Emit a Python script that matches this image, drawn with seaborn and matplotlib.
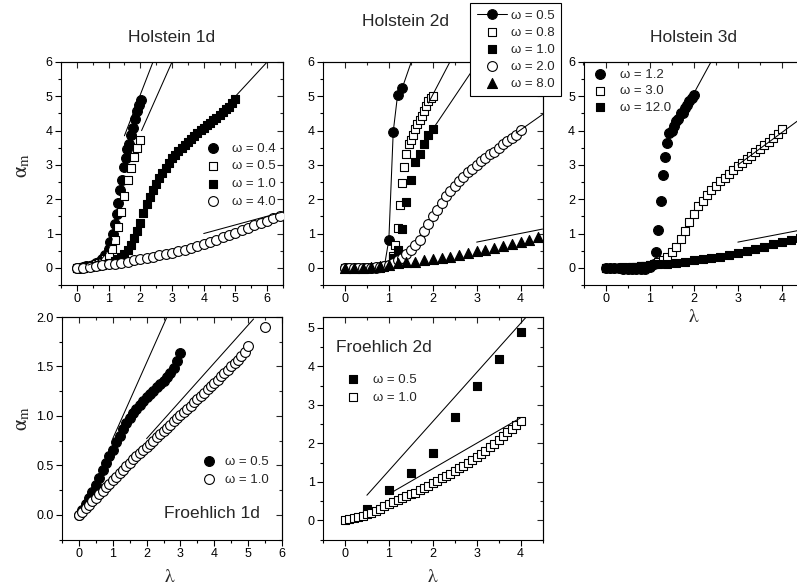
import matplotlib
matplotlib.use("Agg")
import matplotlib.pyplot as plt
import seaborn as sns
from matplotlib.ticker import MultipleLocator, FormatStrFormatter

# ---------------- Holstein 1d ----------------
h1_lam_w04 = [0.0, 0.1, 0.2, 0.3, 0.4, 0.5, 0.6, 0.7, 0.8, 0.9, 1.0, 1.05, 1.13, 1.2, 1.25,
              1.3, 1.37, 1.43, 1.48, 1.54, 1.59, 1.64, 1.72, 1.78, 1.84, 1.89, 1.96, 2.01]
h1_alp_w04 = [0.0, 0.01, 0.02, 0.04, 0.06, 0.09, 0.13, 0.18, 0.25, 0.36, 0.55, 0.75, 1.0, 1.28, 1.57,
              1.89, 2.28, 2.57, 2.93, 3.2, 3.45, 3.61, 3.86, 4.08, 4.35, 4.56, 4.74, 4.9]
h1_lam_w05 = [0.0, 0.1, 0.2, 0.3, 0.4, 0.5, 0.6, 0.7, 0.8, 0.9, 1.0, 1.1, 1.2, 1.3, 1.4, 1.5,
              1.6, 1.7, 1.8, 1.9, 2.0]
h1_alp_w05 = [0.0, 0.01, 0.02, 0.03, 0.05, 0.07, 0.1, 0.13, 0.18, 0.25, 0.38, 0.55, 0.8, 1.18, 1.62, 2.1,
              2.57, 2.92, 3.22, 3.49, 3.73]
h1_lam_w10 = [0.0, 0.1, 0.2, 0.3, 0.4, 0.5, 0.6, 0.7, 0.8, 0.9, 1.0, 1.1, 1.2, 1.3, 1.4, 1.5, 1.6,
              1.7, 1.8, 1.9, 2.0, 2.1, 2.2, 2.3, 2.4, 2.5, 2.6, 2.7, 2.8, 2.9, 3.0, 3.1, 3.2, 3.3,
              3.4, 3.5, 3.6, 3.7, 3.8, 3.9, 4.0, 4.1, 4.2, 4.3, 4.4, 4.5, 4.6, 4.7, 4.8, 4.9, 5.0]
h1_alp_w10 = [0.0, 0.0, 0.01, 0.02, 0.03, 0.04, 0.05, 0.07, 0.08, 0.1, 0.12, 0.15, 0.19, 0.25, 0.32,
              0.41, 0.53, 0.68, 0.86, 1.07, 1.32, 1.6, 1.86, 2.06, 2.26, 2.44, 2.61, 2.77, 2.92,
              3.06, 3.19, 3.3, 3.4, 3.5, 3.59, 3.67, 3.76, 3.84, 3.93, 4.01, 4.08, 4.16, 4.23,
              4.31, 4.38, 4.46, 4.54, 4.62, 4.7, 4.8, 4.92]
h1_lam_w40 = [0.0, 0.2, 0.4, 0.6, 0.8, 1.0, 1.2, 1.4, 1.6, 1.8, 2.0, 2.2, 2.4, 2.6, 2.8, 3.0, 3.2,
              3.4, 3.6, 3.8, 4.0, 4.2, 4.4, 4.6, 4.8, 5.0, 5.2, 5.4, 5.6, 5.8, 6.0, 6.2, 6.4]
h1_alp_w40 = [0.0, 0.01, 0.03, 0.05, 0.07, 0.1, 0.12, 0.15, 0.18, 0.22, 0.26, 0.29, 0.33, 0.36, 0.4,
              0.44, 0.48, 0.53, 0.58, 0.64, 0.7, 0.76, 0.82, 0.89, 0.96, 1.03, 1.1, 1.17, 1.24,
              1.31, 1.38, 1.44, 1.5]
h1_weak_lam = [0.35, 0.6, 0.8, 0.95, 1.05, 1.12]
h1_weak_alp = [0.08, 0.17, 0.28, 0.45, 0.65, 0.85]
h1_fits = [([1.5, 2.4], [3.85, 6.0]), ([2.04, 3.0], [4.0, 6.0]),
           ([4.95, 6.0], [4.95, 6.0]), ([4.0, 6.5], [1.0, 1.63])]

# ---------------- Holstein 2d ----------------
h2_lam_w05 = [0.0, 0.1, 0.2, 0.3, 0.4, 0.5, 0.6, 0.7, 0.8, 0.9, 1.0, 1.1, 1.2, 1.3]
h2_alp_w05 = [0.0, 0.0, 0.0, 0.0, 0.0, 0.0, 0.01, 0.01, 0.02, 0.06, 0.82, 3.97, 5.05, 5.23]
h2_lam_w08 = [0.0, 0.1, 0.2, 0.3, 0.4, 0.5, 0.6, 0.7, 0.8, 0.9, 1.0, 1.1, 1.15, 1.2, 1.25, 1.3,
              1.35, 1.4, 1.45, 1.5, 1.55, 1.6, 1.65, 1.7, 1.75, 1.8, 1.85, 1.9, 1.95, 2.0]
h2_alp_w08 = [0.0, 0.0, 0.0, 0.0, 0.0, 0.0, 0.0, 0.0, 0.0, 0.02, 0.08, 0.34, 0.66, 1.17, 1.82, 2.47,
              2.95, 3.32, 3.6, 3.72, 3.88, 4.05, 4.18, 4.3, 4.43, 4.57, 4.72, 4.85, 4.95, 5.0]
h2_lam_w10 = [0.0, 0.1, 0.2, 0.3, 0.4, 0.5, 0.6, 0.7, 0.8, 0.9, 1.0, 1.1, 1.2, 1.3, 1.4, 1.5,
              1.6, 1.7, 1.8, 1.9, 2.0]
h2_alp_w10 = [0.0, 0.0, 0.0, 0.0, 0.0, 0.0, 0.01, 0.01, 0.02, 0.04, 0.08, 0.3, 0.52, 1.12, 1.92, 2.56,
              3.08, 3.32, 3.62, 3.86, 4.04]
h2_lam_w20 = [0.0, 0.1, 0.2, 0.3, 0.4, 0.5, 0.6, 0.7, 0.8, 0.9, 1.0, 1.1, 1.2, 1.3, 1.4, 1.5, 1.6,
              1.7, 1.8, 1.9, 2.0, 2.1, 2.2, 2.3, 2.4, 2.5, 2.6, 2.7, 2.8, 2.9, 3.0, 3.1, 3.2, 3.3,
              3.4, 3.5, 3.6, 3.7, 3.8, 3.9, 4.0]
h2_alp_w20 = [0.0, 0.0, 0.0, 0.0, 0.0, 0.01, 0.01, 0.02, 0.03, 0.05, 0.08, 0.14, 0.22, 0.3, 0.4, 0.53,
              0.66, 0.82, 1.06, 1.28, 1.5, 1.69, 1.89, 2.08, 2.25, 2.39, 2.54, 2.66, 2.78, 2.88,
              3.0, 3.1, 3.21, 3.31, 3.39, 3.48, 3.6, 3.7, 3.78, 3.87, 4.02]
h2_lam_w80 = [0.0, 0.2, 0.4, 0.6, 0.8, 1.0, 1.2, 1.4, 1.6, 1.8, 2.0, 2.2, 2.4, 2.6, 2.8, 3.0, 3.2,
              3.4, 3.6, 3.8, 4.0, 4.2, 4.4]
h2_alp_w80 = [0.0, 0.0, 0.01, 0.02, 0.04, 0.08, 0.13, 0.16, 0.18, 0.22, 0.27, 0.3, 0.33, 0.38, 0.43,
              0.48, 0.53, 0.58, 0.63, 0.7, 0.76, 0.82, 0.89]
h2_fits = [([1.28, 1.51], [5.15, 6.0]), ([1.9, 2.39], [4.8, 6.0]), ([2.0, 3.03], [4.04, 6.0]),
           ([3.9, 4.5], [3.93, 4.47]), ([3.0, 4.5], [0.75, 1.13])]

# ---------------- Holstein 3d ----------------
h3_lam_w12 = [0.0, 0.1, 0.2, 0.3, 0.4, 0.5, 0.6, 0.7, 0.8, 0.9, 1.0, 1.1, 1.15, 1.2, 1.25, 1.3,
              1.35, 1.4, 1.45, 1.5, 1.55, 1.6, 1.65, 1.7, 1.75, 1.8, 1.85, 1.9, 1.95, 2.0]
h3_alp_w12 = [0.0, 0.0, -0.01, -0.01, -0.02, -0.02, -0.03, -0.03, -0.03, -0.02, 0.02, 0.1, 0.46, 1.1,
              1.95, 2.72, 3.22, 3.65, 3.93, 4.0, 4.12, 4.28, 4.35, 4.5, 4.52, 4.65, 4.75, 4.85,
              4.95, 5.05]
h3_lam_w30 = [0.0, 0.1, 0.2, 0.3, 0.4, 0.5, 0.6, 0.7, 0.8, 0.9, 1.0, 1.1, 1.2, 1.3, 1.4, 1.5, 1.6,
              1.7, 1.8, 1.9, 2.0, 2.1, 2.2, 2.3, 2.4, 2.5, 2.6, 2.7, 2.8, 2.9, 3.0, 3.1, 3.2, 3.3,
              3.4, 3.5, 3.6, 3.7, 3.8, 3.9, 4.0]
h3_alp_w30 = [0.0, 0.0, 0.0, 0.0, 0.01, 0.01, 0.02, 0.03, 0.04, 0.05, 0.08, 0.12, 0.18, 0.24, 0.32,
              0.46, 0.61, 0.83, 1.07, 1.33, 1.57, 1.79, 1.96, 2.13, 2.27, 2.39, 2.52, 2.63, 2.74,
              2.86, 2.98, 3.07, 3.17, 3.27, 3.37, 3.47, 3.58, 3.68, 3.78, 3.9, 4.05]
h3_lam_w120 = [0.0, 0.2, 0.4, 0.6, 0.8, 1.0, 1.2, 1.4, 1.6, 1.8, 2.0, 2.2, 2.4, 2.6, 2.8, 3.0, 3.2,
               3.4, 3.6, 3.8, 4.0, 4.2, 4.4]
h3_alp_w120 = [0.0, 0.0, 0.02, 0.03, 0.05, 0.07, 0.1, 0.11, 0.15, 0.18, 0.22, 0.25, 0.28, 0.32, 0.38,
               0.44, 0.5, 0.55, 0.62, 0.69, 0.75, 0.8, 0.86]
h3_weak_lam = [0.3, 0.5, 0.7, 0.85, 0.95, 1.02]
h3_weak_alp = [-0.01, -0.03, -0.05, -0.07, -0.07, -0.05]
h3_fits = [([2.0, 2.39], [5.08, 6.0]), ([3.0, 4.5], [3.0, 4.42]), ([3.0, 4.5], [0.75, 1.12])]

# ---------------- Froehlich 1d ----------------
f1_lam_w05 = [0.0, 0.1, 0.2, 0.3, 0.4, 0.5, 0.6, 0.7, 0.8, 0.9, 1.0, 1.1, 1.2, 1.3, 1.4, 1.5, 1.6,
              1.7, 1.8, 1.9, 2.0, 2.1, 2.2, 2.3, 2.4, 2.5, 2.6, 2.7, 2.8, 2.9, 3.0]
f1_alp_w05 = [0.0, 0.05, 0.11, 0.17, 0.23, 0.3, 0.37, 0.45, 0.52, 0.59, 0.66, 0.74, 0.8, 0.87, 0.93,
              0.98, 1.03, 1.07, 1.11, 1.15, 1.19, 1.22, 1.25, 1.29, 1.32, 1.35, 1.39, 1.43, 1.48,
              1.56, 1.64]
f1_lam_w10 = [0.0, 0.1, 0.2, 0.3, 0.4, 0.5, 0.6, 0.7, 0.8, 0.9, 1.0, 1.1, 1.2, 1.3, 1.4, 1.5, 1.6,
              1.7, 1.8, 1.9, 2.0, 2.1, 2.2, 2.3, 2.4, 2.5, 2.6, 2.7, 2.8, 2.9, 3.0, 3.1, 3.2, 3.3,
              3.4, 3.5, 3.6, 3.7, 3.8, 3.9, 4.0, 4.1, 4.2, 4.3, 4.4, 4.5, 4.6, 4.7, 4.8, 4.9, 5.0,
              5.5]
f1_alp_w10 = [0.0, 0.03, 0.07, 0.1, 0.14, 0.17, 0.21, 0.24, 0.28, 0.31, 0.35, 0.38, 0.42, 0.45, 0.49,
              0.52, 0.56, 0.59, 0.62, 0.66, 0.69, 0.72, 0.75, 0.79, 0.82, 0.85, 0.88, 0.91, 0.95,
              0.98, 1.01, 1.04, 1.07, 1.1, 1.14, 1.17, 1.2, 1.23, 1.27, 1.3, 1.33, 1.36, 1.4, 1.43,
              1.46, 1.5, 1.53, 1.57, 1.61, 1.65, 1.71, 1.9]
f1_fits = [([1.0, 2.6], [0.77, 2.0]), ([2.0, 5.16], [0.77, 1.98])]

# ---------------- Froehlich 2d ----------------
f2_lam_w05 = [0.5, 1.0, 1.5, 2.0, 2.5, 3.0, 3.5, 4.0]
f2_alp_w05 = [0.29, 0.78, 1.23, 1.76, 2.69, 3.49, 4.19, 4.88]
f2_lam_w10 = [0.0, 0.1, 0.2, 0.3, 0.4, 0.5, 0.6, 0.7, 0.8, 0.9, 1.0, 1.1, 1.2, 1.3, 1.4, 1.5, 1.6,
              1.7, 1.8, 1.9, 2.0, 2.1, 2.2, 2.3, 2.4, 2.5, 2.6, 2.7, 2.8, 2.9, 3.0, 3.1, 3.2, 3.3,
              3.4, 3.5, 3.6, 3.7, 3.8, 3.9, 4.0]
f2_alp_w10 = [0.0, 0.03, 0.06, 0.09, 0.12, 0.16, 0.2, 0.25, 0.3, 0.36, 0.42, 0.47, 0.52, 0.57, 0.62,
              0.67, 0.72, 0.78, 0.84, 0.9, 0.97, 1.03, 1.09, 1.15, 1.21, 1.28, 1.35, 1.42, 1.49,
              1.56, 1.64, 1.72, 1.8, 1.89, 1.98, 2.08, 2.18, 2.28, 2.38, 2.48, 2.58]
f2_fits = [([0.5, 4.13], [0.65, 5.28]), ([1.0, 4.0], [0.68, 2.66])]

sns.set_theme(style="ticks")
plt.rcParams["font.family"] = ["Liberation Sans", "DejaVu Sans"]
plt.rcParams["mathtext.fontset"] = "stix"

W, H = 797, 588
fig = plt.figure(figsize=(W / 100, H / 100), dpi=100)

LEG_FS = 9.5


def add_ax(l, r, t, b):
    return fig.add_axes([l / W, 1 - b / H, (r - l) / W, (b - t) / H])


def ftext(x, y, s, **kw):
    fig.text(x / W, 1 - y / H, s, ha="center", va="center", **kw)


def points(ax, lam, alp, marker, filled, size, label=None):
    kw = {} if label is None else {"label": label}
    sns.scatterplot(x=lam, y=alp, ax=ax, marker=marker, s=size,
                    color="black" if filled else "white", edgecolor="black",
                    linewidth=0.8, zorder=3, **kw)


def fit(ax, lam, alp):
    sns.lineplot(x=lam, y=alp, ax=ax, color="black", linewidth=0.75,
                 zorder=4, sort=False, estimator=None)


def frame(ax, xlim, ylim, xstep, ystep, yfmt=None):
    ax.set_xlim(*xlim)
    ax.set_ylim(*ylim)
    for axis, step in ((ax.xaxis, xstep), (ax.yaxis, ystep)):
        axis.set_major_locator(MultipleLocator(step))
        axis.set_minor_locator(MultipleLocator(step / 2))
    if yfmt:
        ax.yaxis.set_major_formatter(FormatStrFormatter(yfmt))
    ax.tick_params(which="both", direction="out", top=False, right=False,
                   labelsize=9, width=0.8, colors="black", pad=2)
    ax.tick_params(which="major", length=4)
    ax.tick_params(which="minor", length=2.2)
    top = ax.secondary_xaxis("top")
    top.xaxis.set_major_locator(MultipleLocator(xstep))
    top.xaxis.set_minor_locator(MultipleLocator(xstep / 2))
    right = ax.secondary_yaxis("right")
    right.yaxis.set_major_locator(MultipleLocator(ystep))
    right.yaxis.set_minor_locator(MultipleLocator(ystep / 2))
    for sec in (top, right):
        sec.tick_params(which="both", direction="in", labeltop=False,
                        labelright=False, width=0.8)
        sec.tick_params(which="major", length=4)
        sec.tick_params(which="minor", length=2.2)
        for sp in sec.spines.values():
            sp.set_linewidth(0.8)
    for sp in ax.spines.values():
        sp.set_linewidth(0.8)
        sp.set_color("black")
    ax.set_xlabel("")
    ax.set_ylabel("")


def legend(ax, x, y, pad, spacing):
    return ax.legend(loc="upper left", bbox_to_anchor=(x, y), borderaxespad=0,
                     borderpad=0, frameon=False, fontsize=LEG_FS, handlelength=1.0,
                     handletextpad=pad, labelspacing=spacing, scatterpoints=1)


CS, SQ, TR = 50, 30, 52

# Holstein 1d
ax1 = add_ax(61, 283, 62, 285)
points(ax1, h1_lam_w04, h1_alp_w04, "o", True, CS, "ω = 0.4")
points(ax1, h1_lam_w05, h1_alp_w05, "s", False, SQ, "ω = 0.5")
points(ax1, h1_lam_w10, h1_alp_w10, "s", True, SQ, "ω = 1.0")
points(ax1, h1_lam_w40, h1_alp_w40, "o", False, CS, "ω = 4.0")
fit(ax1, h1_weak_lam, h1_weak_alp)
for lam, alp in h1_fits:
    fit(ax1, lam, alp)
frame(ax1, (-0.5, 6.5), (-0.5, 6), 1, 1)
legend(ax1, 0.655, 0.64, 0.94, 0.42)

# Holstein 2d
ax2 = add_ax(323, 542.5, 62, 285)
sns.lineplot(x=h2_lam_w05, y=h2_alp_w05, ax=ax2, color="black", linewidth=0.75,
             marker="o", markersize=7, markeredgecolor="black", sort=False,
             estimator=None, zorder=3, label="ω = 0.5")
points(ax2, h2_lam_w08, h2_alp_w08, "s", False, SQ, "ω = 0.8")
points(ax2, h2_lam_w10, h2_alp_w10, "s", True, SQ, "ω = 1.0")
points(ax2, h2_lam_w20, h2_alp_w20, "o", False, CS, "ω = 2.0")
points(ax2, h2_lam_w80, h2_alp_w80, "^", True, TR, "ω = 8.0")
for lam, alp in h2_fits:
    fit(ax2, lam, alp)
frame(ax2, (-0.5, 4.5), (-0.5, 6), 1, 1)
leg2 = ax2.legend(loc="upper left", bbox_to_anchor=(0.670, 1.265), borderaxespad=0,
                  borderpad=0.5, frameon=True, fancybox=False, framealpha=1,
                  fontsize=LEG_FS, handlelength=2.3, handletextpad=0.3, labelspacing=0.36,
                  scatterpoints=1, numpoints=1)
leg2.get_frame().set_edgecolor("black")
leg2.get_frame().set_linewidth(0.8)

# Holstein 3d
ax3 = add_ax(583.5, 804, 62, 285)
points(ax3, h3_lam_w12, h3_alp_w12, "o", True, CS, "ω = 1.2")
points(ax3, h3_lam_w30, h3_alp_w30, "s", False, SQ, "ω = 3.0")
points(ax3, h3_lam_w120, h3_alp_w120, "s", True, SQ, "ω = 12.0")
fit(ax3, h3_weak_lam, h3_weak_alp)
for lam, alp in h3_fits:
    fit(ax3, lam, alp)
frame(ax3, (-0.5, 4.5), (-0.5, 6), 1, 1)
legend(ax3, 0.045, 0.971, 1.0, 0.33)

# Froehlich 1d
ax4 = add_ax(62, 282, 317, 539.5)
points(ax4, f1_lam_w05, f1_alp_w05, "o", True, CS, "ω = 0.5")
points(ax4, f1_lam_w10, f1_alp_w10, "o", False, CS, "ω = 1.0")
for lam, alp in f1_fits:
    fit(ax4, lam, alp)
frame(ax4, (-0.5, 6), (-0.25, 2.0), 1, 0.5, "%.1f")
legend(ax4, 0.638, 0.378, 0.71, 0.45)
ax4.text(0.682, 0.119, "Froehlich 1d", transform=ax4.transAxes, ha="center",
         va="center", fontsize=12.5)

# Froehlich 2d
ax5 = add_ax(323, 542.5, 317, 539.5)
points(ax5, f2_lam_w05, f2_alp_w05, "s", True, SQ, "ω = 0.5")
points(ax5, f2_lam_w10, f2_alp_w10, "s", False, SQ, "ω = 1.0")
for lam, alp in f2_fits:
    fit(ax5, lam, alp)
frame(ax5, (-0.5, 4.5), (-0.5, 5.28), 1, 1)
legend(ax5, 0.108, 0.746, 1.0, 0.42)
ftext(384, 348, "Froehlich 2d", fontsize=12.5)

# titles and axis labels
ftext(172, 37, "Holstein 1d", fontsize=12.5)
ftext(405, 22, "Holstein 2d", fontsize=12.5)
ftext(694, 37, "Holstein 3d", fontsize=12.5)
ftext(22, 165, r"$\mathrm{\alpha}_{\mathrm{m}}$", fontsize=15, rotation=90)
ftext(22, 418, r"$\mathrm{\alpha}_{\mathrm{m}}$", fontsize=15, rotation=90)
ftext(170, 577, r"$\mathrm{\lambda}$", fontsize=14)
ftext(433, 577, r"$\mathrm{\lambda}$", fontsize=14)
ftext(694, 318, r"$\mathrm{\lambda}$", fontsize=14)

fig.savefig("out.png", dpi=100)
